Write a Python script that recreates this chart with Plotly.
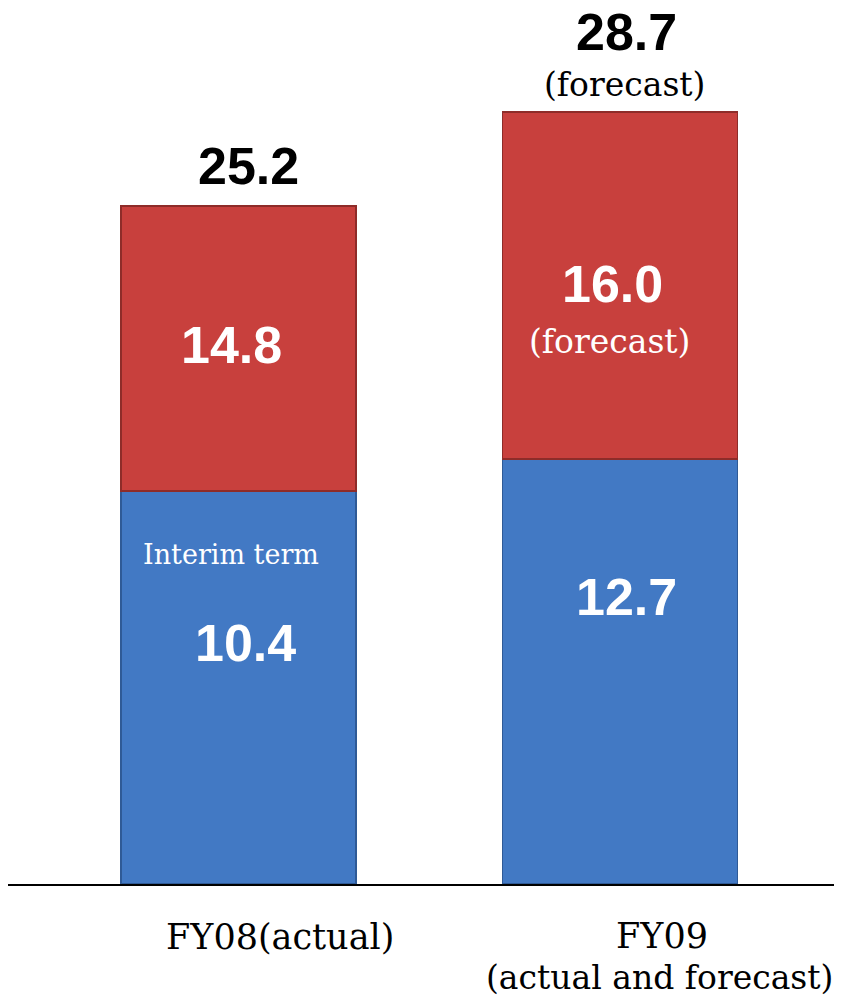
import plotly.graph_objects as go

# ---- data ----
categories = [0, 1]
lower_heights = [14.6, 15.8]      # blue segment (as drawn)
upper_heights = [10.6, 12.9]      # red segment (as drawn)
lower_labels = ["10.4", "12.7"]
upper_labels = ["14.8", "16.0"]
total_labels = ["25.2", "28.7"]
x_label_fy08 = "FY08(actual)"
x_label_fy09 = "FY09"
x_label_fy09_sub = "(actual and forecast)"
interim_text = "Interim term"
forecast_text = "(forecast)"

totals = [a + b for a, b in zip(lower_heights, upper_heights)]

BLUE = "#4279C4"
BLUE_EDGE = "#2F5A96"
RED = "#C8403D"
RED_EDGE = "#8E2C29"
NUM_FONT = dict(family="Liberation Sans, Arial, sans-serif", size=52, weight="bold")
SERIF = "DejaVu Serif, serif"

fig = go.Figure()
fig.add_trace(go.Bar(x=categories, y=lower_heights, width=0.616,
                     marker=dict(color=BLUE, line=dict(color=BLUE_EDGE, width=1.5)),
                     hoverinfo="skip"))
fig.add_trace(go.Bar(x=categories, y=upper_heights, width=0.616,
                     marker=dict(color=RED, line=dict(color=RED_EDGE, width=1.5)),
                     hoverinfo="skip"))

ann = []
# totals above bars
ann.append(dict(x=categories[0], y=totals[0], text=total_labels[0], xshift=10, yshift=40,
                font=dict(color="black", **NUM_FONT)))
ann.append(dict(x=categories[1], y=totals[1], text=total_labels[1], xshift=6, yshift=80,
                font=dict(color="black", **NUM_FONT)))
ann.append(dict(x=categories[1], y=totals[1], text=forecast_text, xshift=5, yshift=27,
                font=dict(color="black", family=SERIF, size=33)))
# upper (red) segment labels
mid_up = [lo + up / 2 for lo, up in zip(lower_heights, upper_heights)]
ann.append(dict(x=categories[0], y=mid_up[0], text=upper_labels[0], xshift=-7.5, yshift=4,
                font=dict(color="white", **NUM_FONT)))
ann.append(dict(x=categories[1], y=mid_up[1], text=upper_labels[1], xshift=-8, yshift=1,
                font=dict(color="white", **NUM_FONT)))
ann.append(dict(x=categories[1], y=mid_up[1], text=forecast_text, xshift=-10, yshift=-56,
                font=dict(color="white", family=SERIF, size=33)))
# lower (blue) segment labels
ann.append(dict(x=categories[0], y=lower_heights[0], text=interim_text, xshift=-8, yshift=-63,
                font=dict(color="white", family=SERIF, size=27)))
ann.append(dict(x=categories[0], y=lower_heights[0], text=lower_labels[0], xshift=6.5, yshift=-152,
                font=dict(color="white", **NUM_FONT)))
ann.append(dict(x=categories[1], y=lower_heights[1], text=lower_labels[1], xshift=6, yshift=-138,
                font=dict(color="white", **NUM_FONT)))
# category labels
ann.append(dict(x=categories[0], y=0, text=x_label_fy08, xshift=41.5, yshift=-53,
                font=dict(color="black", family=SERIF, size=35)))
ann.append(dict(x=categories[1], y=0, text=x_label_fy09, xshift=42, yshift=-52,
                font=dict(color="black", family=SERIF, size=35)))
ann.append(dict(x=categories[1], y=0, text=x_label_fy09_sub, xshift=39, yshift=-93,
                font=dict(color="black", family=SERIF, size=33)))

for a in ann:
    a.update(xref="x", yref="y", showarrow=False, xanchor="center", yanchor="middle")

fig.update_layout(
    width=843, height=997,
    margin=dict(l=8, r=9, t=0, b=113),
    barmode="stack",
    showlegend=False,
    hovermode=False,
    plot_bgcolor="white", paper_bgcolor="white",
    annotations=ann,
    xaxis=dict(range=[-0.6042, 1.5609], showticklabels=False, showgrid=False, zeroline=False,
               showline=True, linecolor="black", linewidth=2, ticks=""),
    yaxis=dict(range=[0, 32.86], visible=False, showgrid=False, zeroline=False),
)

fig.write_html("out.html",
               config={"displayModeBar": False},
               post_script="document.body.style.margin='0';document.body.style.overflow='hidden';")
